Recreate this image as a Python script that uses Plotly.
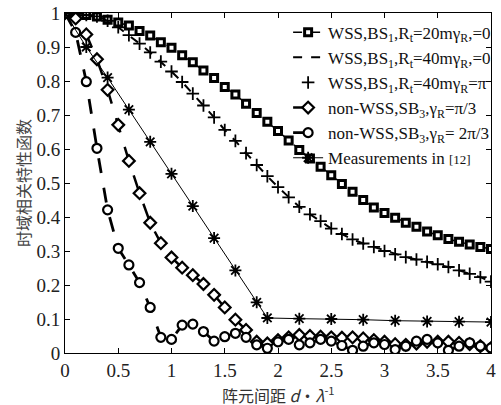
import plotly.graph_objects as go

x_sim = [round(i * 0.1, 1) for i in range(41)]

wss_20m_g0 = [1.0, 0.998, 0.994, 0.99, 0.98, 0.972, 0.963, 0.947, 0.934, 0.914,
              0.898, 0.876, 0.855, 0.831, 0.809, 0.782, 0.76, 0.733, 0.706, 0.68,
              0.653, 0.625, 0.597, 0.572, 0.548, 0.523, 0.497, 0.474, 0.45, 0.428,
              0.412, 0.398, 0.383, 0.371, 0.357, 0.346, 0.335, 0.327, 0.319, 0.312, 0.306]

wss_40m = [1.0, 0.998, 0.994, 0.99, 0.977, 0.958, 0.935, 0.91, 0.884, 0.857,
           0.828, 0.797, 0.763, 0.728, 0.693, 0.656, 0.624, 0.588, 0.553, 0.52,
           0.488, 0.458, 0.43, 0.408, 0.388, 0.366, 0.35, 0.334, 0.322, 0.312,
           0.3, 0.29, 0.282, 0.275, 0.268, 0.261, 0.253, 0.243, 0.233, 0.223, 0.21]

nonwss_pi3 = [1.0, 0.984, 0.937, 0.864, 0.774, 0.671, 0.565, 0.47, 0.383, 0.323,
              0.281, 0.251, 0.229, 0.203, 0.171, 0.134, 0.098, 0.068, 0.033, 0.028,
              0.038, 0.046, 0.053, 0.05, 0.048, 0.046, 0.045, 0.046, 0.043, 0.038,
              0.033, 0.026, 0.024, 0.028, 0.033, 0.033, 0.033, 0.03, 0.026, 0.02, 0.014]

nonwss_2pi3 = [1.0, 0.943, 0.798, 0.602, 0.421, 0.308, 0.259, 0.207, 0.134, 0.046,
               0.04, 0.082, 0.085, 0.063, 0.035, 0.048, 0.058, 0.046, 0.024, 0.014,
               0.033, 0.04, 0.024, 0.03, 0.04, 0.035, 0.022, 0.008, 0.02, 0.03,
               0.025, 0.01, 0.02, 0.035, 0.04, 0.03, 0.008, 0.02, 0.03, 0.02, 0.015]

x_meas = [0, 0.2, 0.4, 0.6, 0.8, 1.0, 1.2, 1.4, 1.6, 1.8, 1.9, 2.2, 2.5, 2.8, 3.1, 3.4, 3.7, 4.0]
meas = [1.0, 0.9, 0.81, 0.716, 0.621, 0.527, 0.432, 0.338, 0.243, 0.149, 0.103,
        0.101, 0.1, 0.098, 0.095, 0.093, 0.092, 0.091]

x_ticks = [0, 0.5, 1, 1.5, 2, 2.5, 3, 3.5, 4]
x_ticklabels = ["0", "0.5", "1", "1.5", "2", "2.5", "3", "3.5", "4"]
y_ticks = [0, 0.1, 0.2, 0.3, 0.4, 0.5, 0.6, 0.7, 0.8, 0.9, 1]
y_ticklabels = ["0", "0.1", "0.2", "0.3", "0.4", "0.5", "0.6", "0.7", "0.8", "0.9", "1"]

names = [
    "WSS,BS<sub>1</sub>,R<sub>t</sub>=20mγ<sub>R</sub>,=0",
    "WSS,BS<sub>1</sub>,R<sub>t</sub>=40mγ<sub>R</sub>,=0",
    "WSS,BS<sub>1</sub>,R<sub>t</sub>=40mγ<sub>R</sub>=π",
    "non-WSS,SB<sub>3</sub>,γ<sub>R</sub>=π/3",
    "non-WSS,SB<sub>3</sub>,γ<sub>R</sub>= 2π/3",
    "Measurements in <span style='font-size:13px'>[12]</span>",
]

fig = go.Figure()
fig.add_trace(go.Scatter(x=x_sim, y=wss_20m_g0, name=names[0], mode="lines+markers",
                         line=dict(color="black", width=1.5, dash="dash"),
                         marker=dict(symbol="square", size=7, color="white",
                                     line=dict(color="black", width=3))))
fig.add_trace(go.Scatter(x=x_sim, y=wss_40m, name=names[1], mode="lines",
                         line=dict(color="black", width=2, dash="dash")))
fig.add_trace(go.Scatter(x=x_sim, y=wss_40m, name=names[2], mode="markers",
                         marker=dict(symbol="cross-thin", size=9, color="black",
                                     line=dict(color="black", width=1.8))))
fig.add_trace(go.Scatter(x=x_sim, y=nonwss_pi3, name=names[3], mode="lines+markers",
                         line=dict(color="black", width=2.5, dash="longdash"),
                         marker=dict(symbol="diamond", size=9, color="white",
                                     line=dict(color="black", width=2.2))))
fig.add_trace(go.Scatter(x=x_sim, y=nonwss_2pi3, name=names[4], mode="lines+markers",
                         line=dict(color="black", width=2.8, dash="longdash"),
                         marker=dict(symbol="circle", size=9, color="white",
                                     line=dict(color="black", width=2.2))))
fig.add_trace(go.Scatter(x=x_meas, y=meas, name=names[5], mode="lines+markers",
                         line=dict(color="black", width=1),
                         marker=dict(symbol="asterisk-open", size=10, color="black",
                                     line=dict(color="black", width=1.8))))

axis_common = dict(showline=True, linecolor="black", linewidth=1, mirror="allticks",
                   ticks="inside", ticklen=5, tickcolor="black", showgrid=False,
                   zeroline=False, automargin=False,
                   tickfont=dict(family="Liberation Serif", size=19, color="#222"))

fig.update_xaxes(range=[0, 4], tickmode="array", tickvals=x_ticks, ticktext=x_ticklabels,
                 **axis_common)
fig.update_yaxes(range=[0, 1], tickmode="array", tickvals=y_ticks, ticktext=y_ticklabels,
                 **axis_common)

fig.add_annotation(text="阵元间距 <i>d</i>·<i>λ</i><sup>-1</sup>", xref="paper", yref="paper",
                   x=0.5, y=-0.078, xanchor="center", yanchor="top", showarrow=False,
                   font=dict(family="Noto Sans CJK SC, Liberation Serif", size=16, color="#333"))
fig.add_annotation(text="时域相关特性函数", xref="paper", yref="paper",
                   x=-0.066, y=0.5, xanchor="right", yanchor="middle", showarrow=False,
                   textangle=-90,
                   font=dict(family="Noto Sans CJK SC", size=16, color="#444"))

fig.update_layout(
    width=501, height=405,
    margin=dict(l=65, r=5, t=13, b=52),
    paper_bgcolor="white", plot_bgcolor="white",
    showlegend=True,
    legend=dict(x=1.012, y=0.995, xanchor="right", yanchor="top",
                bgcolor="rgba(255,255,255,0)", borderwidth=0,
                font=dict(family="Liberation Serif", size=17, color="#111"),
                tracegroupgap=0, itemwidth=30),
)

fig.write_html("out.html", config={"displayModeBar": False})

with open("out.html", "r", encoding="utf-8") as f:
    html = f.read()
html = html.replace("<head>", "<head><style>html,body{margin:0;padding:0;overflow:hidden;}</style>", 1)
with open("out.html", "w", encoding="utf-8") as f:
    f.write(html)
